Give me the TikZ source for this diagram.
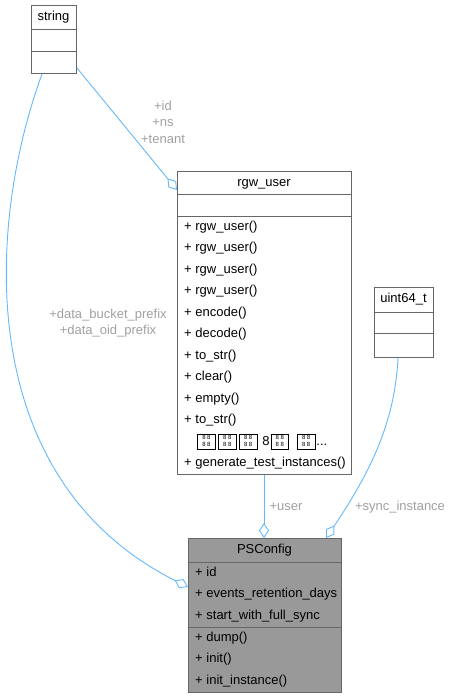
\documentclass[tikz,border=0pt]{standalone}
\usepackage{fontspec}
\setmainfont{Liberation Sans}
\usetikzlibrary{arrows.meta,calc}
\definecolor{edgeblue}{HTML}{63B8FF}
\definecolor{lblgrey}{HTML}{A0A0A0}
\definecolor{boxline}{HTML}{666666}
\definecolor{boxfill}{HTML}{999999}
\newcommand\tofu{\raisebox{-2pt}{\setlength\fboxsep{0pt}\setlength\fboxrule{0.7pt}\fbox{\makebox[17pt]{\rule[-2pt]{0pt}{15pt}\raisebox{0.3pt}{\fontsize{6}{6}\selectfont\shortstack{8\kern1.5pt8\\8\kern1.5pt8}}}}}}
\begin{document}
\begin{tikzpicture}[x=1pt,y=-1pt,
  cls/.style={draw=boxline, line width=1pt, fill=white, inner sep=0pt, anchor=north west},
  sep/.style={draw=boxline, line width=1pt},
  txt/.style={inner sep=0pt, font=\fontsize{13}{15}\selectfont, text height=9.5pt, text depth=3pt},
  lbl/.style={inner sep=0pt, align=center, text=lblgrey, font=\fontsize{13}{16.5}\selectfont},
  edge/.style={draw=edgeblue, line width=0.9pt, -{Diamond[length=15pt,width=10pt,fill=white,line width=0.9pt]}}
]
\useasboundingbox (0,0) rectangle (451,699);

% string
\node[cls, minimum width=45, minimum height=68] (string) at (31,5) {};
\draw[sep] (31,29) -- (76,29);
\draw[sep] (31,51) -- (76,51);
\node[txt] (stringt) at (53.5,17) {string};

% rgw_user
\node[cls, minimum width=174, minimum height=303] (rgw) at (177,171) {};
\draw[sep] (177,194) -- (351,194);
\draw[sep] (177,216) -- (351,216);
\node[txt] (rgwt) at (264,183) {rgw\_user};
\node[txt, anchor=west] (r1) at (184,227) {+ rgw\_user()};
\node[txt, anchor=west] (r2) at (184,248.5) {+ rgw\_user()};
\node[txt, anchor=west] (r3) at (184,270) {+ rgw\_user()};
\node[txt, anchor=west] (r4) at (184,291.5) {+ rgw\_user()};
\node[txt, anchor=west] (r5) at (184,313) {+ encode()};
\node[txt, anchor=west] (r6) at (184,334.5) {+ decode()};
\node[txt, anchor=west] (r7) at (184,356) {+ to\_str()};
\node[txt, anchor=west] (r8) at (184,377.5) {+ clear()};
\node[txt, anchor=west] (r9) at (184,399) {+ empty()};
\node[txt, anchor=west] (r10) at (184,420.5) {+ to\_str()};
\node[txt, anchor=west] (r11) at (197,442) {\tofu\kern2.5pt\tofu\kern2.5pt\tofu\kern5pt 8\kern1pt\tofu\kern8pt\tofu\kern1pt...};
\node[txt, anchor=west] (r12) at (184,463.5) {+ generate\_test\_instances()};

% uint64_t
\node[cls, minimum width=59, minimum height=70] (uint) at (374,287) {};
\draw[sep] (374,312) -- (433,312);
\draw[sep] (374,333) -- (433,333);
\node[txt] (uintt) at (403.5,299) {uint64\_t};

% PSConfig
\node[cls, fill=boxfill, minimum width=153, minimum height=154] (psc) at (188,538) {};
\draw[sep] (188,562) -- (341,562);
\draw[sep] (188,627) -- (341,627);
\node[txt] (psct) at (264.5,550) {PSConfig};
\node[txt, anchor=west] (p1) at (195,573) {+ id};
\node[txt, anchor=west] (p2) at (195,594.5) {+ events\_retention\_days};
\node[txt, anchor=west] (p3) at (195,616) {+ start\_with\_full\_sync};
\node[txt, anchor=west] (p4) at (195,638) {+ dump()};
\node[txt, anchor=west] (p5) at (195,659.5) {+ init()};
\node[txt, anchor=west] (p6) at (195,681) {+ init\_instance()};

% connectors
\draw[edge] ($(string.south east)+(0,-6)$) -- ($(rgw.north west)+(0,19)$);
\draw[edge] ($(string.south west)+(11,0)$) .. controls (-15,230) and (-25,480) .. ($(psc.north west)+(0,49)$);
\draw[edge] ($(rgw.south west)+(87,0)$) -- ($(psc.north west)+(76,0)$);
\draw[edge] ($(uint.south west)+(24,0)$) .. controls (395,420) and (372,470) .. ($(psc.north west)+(138,0)$);

% labels
\node[lbl] (lid) at (163,122) {+id\\+ns\\+tenant};
\node[lbl] (ldata) at (108,323) {+data\_bucket\_prefix\\+data\_oid\_prefix};
\node[lbl] (luser) at (286,506.5) {+user};
\node[lbl] (lsync) at (400,507) {+sync\_instance};
\end{tikzpicture}
\end{document}
